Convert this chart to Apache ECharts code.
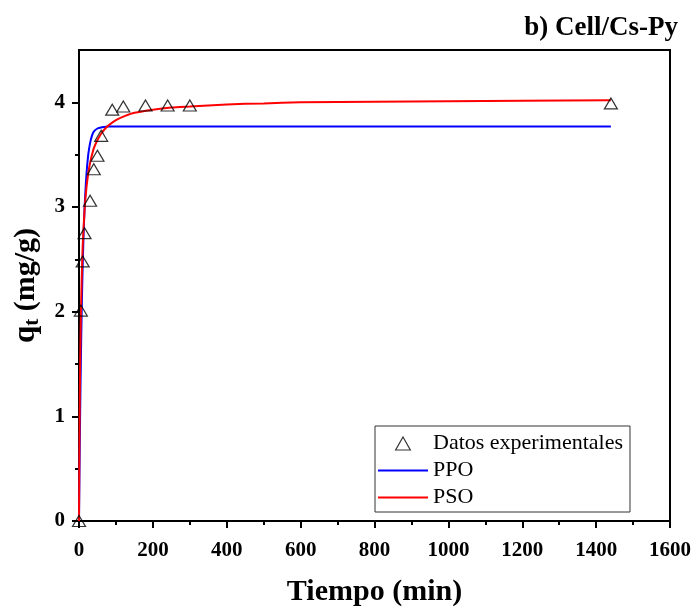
<!DOCTYPE html>
<html>
<head>
<meta charset="UTF-8">
<title>Cinetica Cell/Cs-Py</title>
<script src="https://cdn.jsdelivr.net/npm/echarts@6/dist/echarts.min.js"></script>
<style>
  html, body { margin: 0; padding: 0; background: #fff; }
  #main { width: 696px; height: 609px; }
</style>
</head>
<body>
<div id="main"></div>
<script type="text/javascript">
// datos experimentales (t en min, qt en mg/g)
var expTime = [0, 5, 10, 15, 30, 40, 50, 60, 90, 120, 180, 240, 300, 1440];
var expQt   = [0, 2.01, 2.48, 2.75, 3.06, 3.36, 3.49, 3.68, 3.93, 3.96, 3.97, 3.97, 3.97, 3.99];

// curva PPO
var ppoTime = [0, 2, 4, 6, 8, 10, 12, 15, 20, 25, 30, 35, 40, 50, 60, 80, 100, 200, 600, 1000, 1440];
var ppoQt   = [0, 0.71, 1.28, 1.75, 2.13, 2.44, 2.69, 2.98, 3.30, 3.50, 3.61, 3.68, 3.72, 3.75, 3.76, 3.77, 3.77, 3.77, 3.77, 3.77, 3.77];

// curva PSO
var psoTime = [0, 1, 2, 3, 5, 7, 10, 15, 20, 25, 30, 40, 50, 60, 70, 80, 100, 125, 150, 200, 250, 300, 400, 500, 600, 800, 1000, 1200, 1440];
var psoQt   = [0, 0.62, 1.10, 1.46, 1.95, 2.27, 2.63, 2.97, 3.18, 3.32, 3.42, 3.56, 3.64, 3.70, 3.745, 3.78, 3.83, 3.87, 3.90, 3.93, 3.95, 3.96, 3.98, 3.99, 4.00, 4.005, 4.01, 4.015, 4.02];

var xTicks = { min: 0, max: 1600, step: 200 };
var yMajor = [0, 1, 2, 3, 4];
var yMinor = [0.5, 1.5, 2.5, 3.5];
var yMax = 4.5;

function pairs(xs, ys) {
  return xs.map(function (x, i) { return [x, ys[i]]; });
}

var font = 'Liberation Serif';
var myChart = echarts.init(document.getElementById('main'));

var yBase = {
  type: 'value',
  min: 0, max: yMax, interval: 0.5,
  splitLine: { show: false }
};

var option = {
  backgroundColor: '#fff',
  animation: false,
  title: {
    text: 'b) Cell/Cs-Py',
    right: 13,
    top: 10,
    textStyle: { fontFamily: font, fontSize: 27, fontWeight: 'bold', color: '#000' }
  },
  grid: {
    left: 79, right: 26, top: 50, bottom: 88,
    outerBoundsMode: 'none',
    show: true, borderColor: '#000', borderWidth: 2, backgroundColor: 'transparent'
  },
  legend: {
    orient: 'vertical',
    left: 375, top: 426,
    padding: [4, 7, 1, 3],
    itemWidth: 50, itemHeight: 13,
    itemGap: 0,
    symbolKeepAspect: true,
    borderColor: '#333', borderWidth: 1,
    textStyle: { fontFamily: font, fontSize: 22, color: '#000', lineHeight: 27 },
    data: [
      { name: 'Datos experimentales', icon: 'path://M6.5,0L13,11.5L0,11.5Z',
        itemStyle: { color: 'rgba(0,0,0,0)', borderColor: '#000', borderWidth: 1.2 } },
      { name: 'PPO', icon: 'path://M0,0H50V2H0Z', itemStyle: { color: '#0000ff', borderWidth: 0 } },
      { name: 'PSO', icon: 'path://M0,0H50V2H0Z', itemStyle: { color: '#ff0000', borderWidth: 0 } }
    ]
  },
  xAxis: {
    type: 'value',
    min: xTicks.min, max: xTicks.max, interval: xTicks.step,
    name: 'Tiempo (min)',
    nameLocation: 'middle',
    nameGap: 56,
    nameTextStyle: { fontFamily: font, fontSize: 30, fontWeight: 'bold', color: '#000' },
    axisLine: { lineStyle: { color: '#000', width: 2 } },
    axisTick: { inside: false, length: 7, lineStyle: { color: '#000', width: 2 } },
    minorTick: { show: true, splitNumber: 2, length: 4, lineStyle: { color: '#000', width: 2 } },
    axisLabel: {
      margin: 19, fontFamily: font, fontSize: 21, fontWeight: 'bold', color: '#000',
      formatter: function (v) { return String(v); }
    },
    splitLine: { show: false }
  },
  yAxis: [
    Object.assign({}, yBase, {
      name: '{q|q}{t|t}{r| (mg/g)}',
      nameLocation: 'middle',
      nameGap: 36,
      nameTextStyle: {
        fontFamily: font, fontWeight: 'bold', color: '#000',
        rich: {
          q: { fontFamily: font, fontSize: 31, fontWeight: 'bold', lineHeight: 34, verticalAlign: 'middle' },
          t: { fontFamily: font, fontSize: 21, fontWeight: 'bold', lineHeight: 16, verticalAlign: 'bottom' },
          r: { fontFamily: font, fontSize: 30, fontWeight: 'bold', lineHeight: 34, verticalAlign: 'middle' }
        }
      },
      axisLine: { lineStyle: { color: '#000', width: 2 } },
      axisTick: { inside: false, length: 7, customValues: yMajor, lineStyle: { color: '#000', width: 2 } },
      axisLabel: {
        margin: 14, fontFamily: font, fontSize: 21, fontWeight: 'bold', color: '#000',
        customValues: yMajor
      }
    }),
    Object.assign({}, yBase, {
      position: 'left',
      axisLine: { show: false },
      axisTick: { inside: false, length: 4, customValues: yMinor, lineStyle: { color: '#000', width: 2 } },
      axisLabel: { show: false }
    })
  ],
  series: [
    {
      name: 'PPO',
      type: 'line',
      data: pairs(ppoTime, ppoQt),
      smooth: 0.3,
      showSymbol: false,
      symbol: 'none',
      color: '#0000ff',
      lineStyle: { color: '#0000ff', width: 2 },
      z: 2
    },
    {
      name: 'PSO',
      type: 'line',
      data: pairs(psoTime, psoQt),
      smooth: 0.2,
      showSymbol: false,
      symbol: 'none',
      color: '#ff0000',
      lineStyle: { color: '#ff0000', width: 2 },
      z: 3
    },
    {
      name: 'Datos experimentales',
      type: 'scatter',
      data: pairs(expTime, expQt),
      symbol: 'triangle',
      symbolSize: [13, 11],
      clip: false,
      itemStyle: { color: 'rgba(0,0,0,0)', borderColor: '#000', borderWidth: 1.2 },
      z: 4
    }
  ]
};

myChart.setOption(option);
</script>
</body>
</html>
